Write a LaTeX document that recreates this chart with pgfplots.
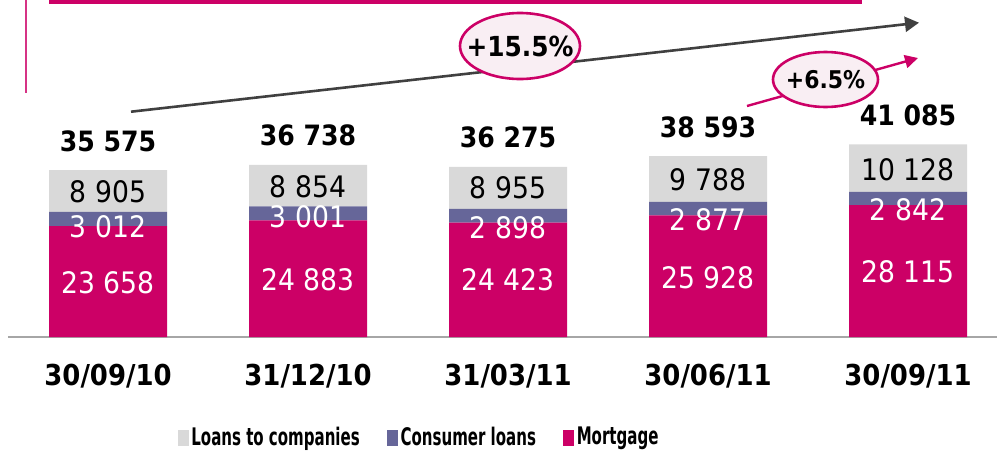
\documentclass[border=0pt]{standalone}
\usepackage{fontspec}
\usepackage{graphicx}
\usepackage{pgfplots}
\pgfplotsset{compat=1.18}
\usetikzlibrary{arrows.meta}
\setmainfont{DejaVu Sans Condensed}
\definecolor{mag}{RGB}{204,0,102}
\definecolor{pur}{RGB}{102,102,153}
\definecolor{lgr}{RGB}{217,217,217}
\definecolor{pinkfill}{RGB}{249,238,243}
\definecolor{arr}{RGB}{64,64,64}
\definecolor{basec}{RGB}{166,166,166}
\newcommand{\totfont}{\bfseries\fontsize{14pt}{16pt}\selectfont}
\newcommand{\segfont}{\fontsize{14.8pt}{17pt}\selectfont}
\newcommand{\catfont}{\bfseries\fontsize{14.4pt}{16pt}\selectfont}
\newcommand{\legtext}[1]{\scalebox{0.69}[1]{\bfseries\fontsize{12.1pt}{14pt}\selectfont #1}}
\begin{document}
\begin{tikzpicture}
\useasboundingbox (-4pt,-57.5pt) rectangle (494.5pt,168.5pt);
\begin{axis}[
  at={(0,0)}, anchor=south west,
  scale only axis, width=494.5pt, height=168.5pt,
  xmin=-0.5, xmax=4.445, ymin=0, ymax=71880,
  ybar stacked, bar width=59pt,
  axis y line=none, axis x line=bottom,
  x axis line style={-, draw=basec, line width=1pt},
  xtick=\empty, ytick=\empty,
  clip=false,
  legend columns=-1,
  legend style={at={(0.4161,-0.298)}, anchor=center, draw=none, fill=none,
    inner sep=0pt, nodes={inner sep=1.5pt},
    /tikz/every even column/.append style={column sep=12pt}},
]
\addplot[fill=mag, draw=none, forget plot] coordinates {(0,23658) (1,24883) (2,24423) (3,25928) (4,28115)};
\addplot[fill=pur, draw=none, forget plot] coordinates {(0,3012) (1,3001) (2,2898) (3,2877) (4,2842)};
\addplot[fill=lgr, draw=none, forget plot] coordinates {(0,8905) (1,8854) (2,8955) (3,9788) (4,10128)};
\addlegendimage{legend image code/.code={\fill[lgr] (0pt,-3.75pt) rectangle (5pt,3.75pt);}}
\addlegendentry{\legtext{Loans to companies}}
\addlegendimage{legend image code/.code={\fill[pur] (0pt,-3.75pt) rectangle (5pt,3.75pt);}}
\addlegendentry{\legtext{Consumer loans}}
\addlegendimage{legend image code/.code={\fill[mag] (0pt,-3.75pt) rectangle (5pt,3.75pt);}}
\addlegendentry{\legtext{Mortgage}}
% anchor points for labels (totals and segment label positions)
\coordinate (t0) at (axis cs:0,35575);
\coordinate (t1) at (axis cs:1,36738);
\coordinate (t2) at (axis cs:2,36275);
\coordinate (t3) at (axis cs:3,38593);
\coordinate (t4) at (axis cs:4,41085);
\coordinate (m0) at (axis cs:0,11518);
\coordinate (m1) at (axis cs:1,12265);
\coordinate (m2) at (axis cs:2,12158);
\coordinate (m3) at (axis cs:3,12691);
\coordinate (m4) at (axis cs:4,13865);
\coordinate (c0) at (axis cs:0,23463);
\coordinate (c1) at (axis cs:1,25703);
\coordinate (c2) at (axis cs:2,23356);
\coordinate (c3) at (axis cs:3,24956);
\coordinate (c4) at (axis cs:4,27089);
\coordinate (l0) at (axis cs:0,31035);
\coordinate (l1) at (axis cs:1,32102);
\coordinate (l2) at (axis cs:2,31888);
\coordinate (l3) at (axis cs:3,33488);
\coordinate (l4) at (axis cs:4,35621);
\coordinate (x0) at (axis cs:0,0);
\coordinate (x1) at (axis cs:1,0);
\coordinate (x2) at (axis cs:2,0);
\coordinate (x3) at (axis cs:3,0);
\coordinate (x4) at (axis cs:4,0);
\end{axis}
% totals
\foreach \i/\t in {0/35 575,1/36 738,2/36 275,3/38 593,4/41 085}
  \node[font=\totfont, yshift=14.6pt] at (t\i) {\t};
% mortgage
\foreach \i/\t in {0/23 658,1/24 883,2/24 423,3/25 928,4/28 115}
  \node[white, font=\segfont] at (m\i) {\t};
% consumer
\foreach \i/\t in {0/3 012,1/3 001,2/2 898,3/2 877,4/2 842}
  \node[white, font=\segfont] at (c\i) {\t};
% companies
\foreach \i/\t in {0/8 905,1/8 854,2/8 955,3/9 788,4/10 128}
  \node[black, font=\segfont] at (l\i) {\t};
% categories
\foreach \i/\t in {0/30\slash 09\slash 10,1/31\slash 12\slash 10,2/31\slash 03\slash 11,3/30\slash 06\slash 11,4/30\slash 09\slash 11}
  \node[font=\catfont, yshift=-19.5pt] at (x\i) {\t};
\begin{scope}[x=0.5pt, y=-0.5pt, shift={(-4pt,168.5pt)}]
  \fill[mag] (49,0) rectangle (862,3.5);
  \draw[mag!80, line width=0.6pt] (26,0) -- (26,93);
  \draw[arr, line width=1.3pt, -{Triangle[length=7pt,width=7.5pt]}] (131,111.7) -- (919,22.7);
  \draw[mag, line width=1.3pt, fill=pinkfill] (520,46) ellipse [x radius=60, y radius=33];
  \node[font=\bfseries\fontsize{13.8pt}{16pt}\selectfont] at (520,46) {+15.5\%};
  \draw[mag, line width=1.2pt, -{Triangle[length=6.5pt,width=6.5pt]}] (747,106) -- (918,58);
  \draw[mag, line width=1.3pt, fill=pinkfill] (825.5,79.5) ellipse [x radius=52.5, y radius=27.5];
  \node[font=\bfseries\fontsize{12.2pt}{14pt}\selectfont] at (825.5,79.5) {+6.5\%};
\end{scope}
\end{tikzpicture}
\end{document}
